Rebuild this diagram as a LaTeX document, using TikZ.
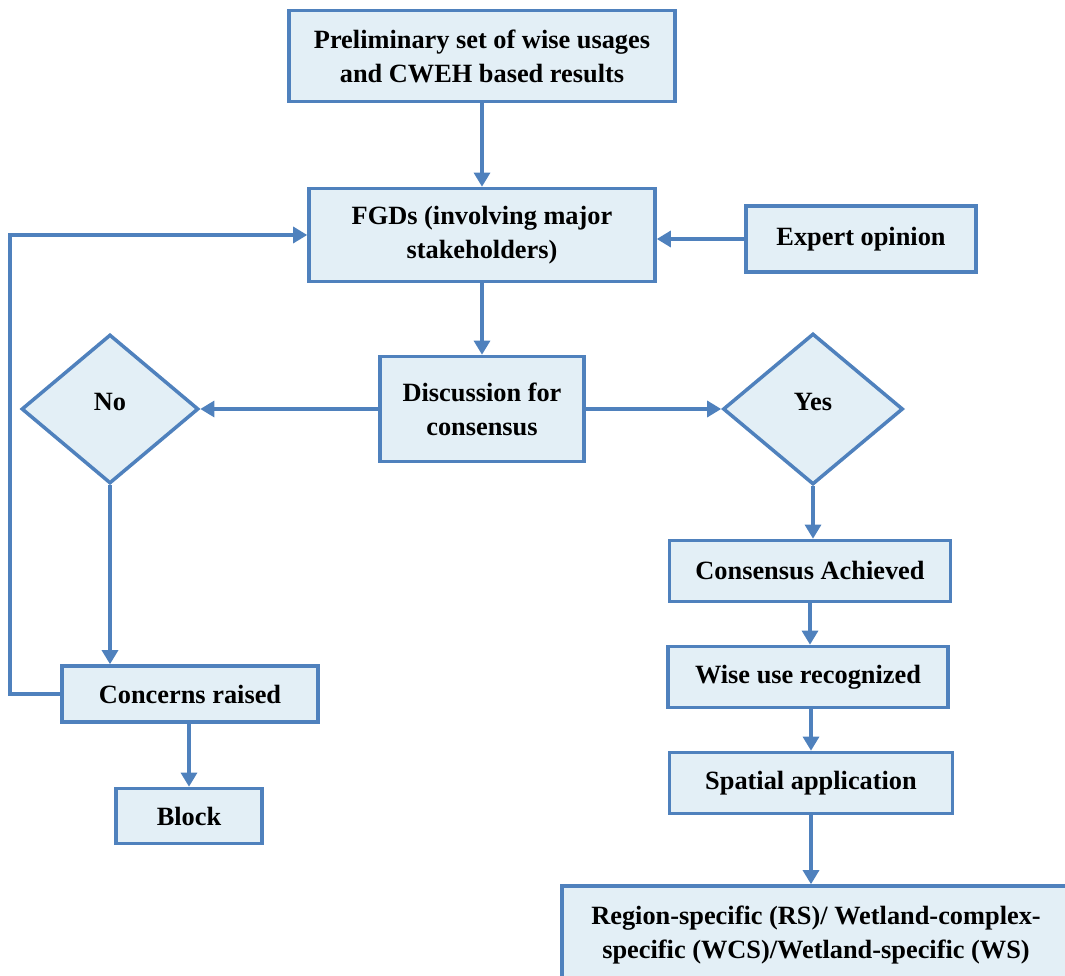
\documentclass[tikz,border=0pt]{standalone}
\usepackage{fontspec}
\setmainfont{Liberation Serif}
\usetikzlibrary{positioning,arrows.meta,shapes.geometric}
\definecolor{boxline}{HTML}{4F81BD}
\definecolor{boxfill}{HTML}{E3EFF6}

\begin{document}
\begin{tikzpicture}[x=0.02cm,y=-0.02cm,>={Triangle[length=8pt,width=9pt]},
  box/.style={draw=boxline,fill=boxfill,line width=2pt,align=center,inner sep=2pt,
    font=\fontsize{15}{19.3}\selectfont\bfseries},
  decision/.style={box,diamond,inner sep=0pt,text depth=8pt},
  flow/.style={->,draw=boxline,line width=2.2pt}]
  \useasboundingbox (0,0) rectangle (1065,976);
  \clip (0,0) rectangle (1065,976);
  % main column
  \node[box,minimum width=7.72cm,minimum height=1.82cm] (prelim) at (482,56) {Preliminary set of wise usages\\and CWEH based results};
  \node[box,minimum width=6.92cm,minimum height=1.86cm] (fgd) at (482,235) {FGDs (involving major\\stakeholders)};
  \node[box,minimum width=4.6cm,minimum height=1.32cm] (expert) at (861,239) {Expert opinion};
  \node[box,minimum width=4.08cm,minimum height=2.1cm] (disc) at (482,409) {Discussion for\\consensus};
  \node[decision,minimum width=3.54cm,minimum height=2.98cm] (no) at (110,409) {No};
  \node[decision,minimum width=3.6cm,minimum height=3.02cm] (yes) at (813,409) {Yes};
  % right branch
  \node[box,minimum width=5.62cm,minimum height=1.22cm] (cons) at (810,571) {Consensus Achieved};
  \node[box,minimum width=5.6cm,minimum height=1.22cm] (wise) at (808,677) {Wise use recognized};
  \node[box,minimum width=5.66cm,minimum height=1.22cm] (spatial) at (811,783) {Spatial application};
  \node[box,minimum width=10.16cm,minimum height=1.96cm] (region) at (816,935) {Region-specific (RS)/ Wetland-complex-\\specific (WCS)/Wetland-specific (WS)};
  % left branch
  \node[box,minimum width=5.12cm,minimum height=1.12cm] (concerns) at (190,694) {Concerns raised};
  \node[box,minimum width=2.92cm,minimum height=1.1cm] (block) at (189,816) {Block};
  % connectors
  \draw[flow] (prelim) -- (fgd);
  \draw[flow] (expert.west) -- (fgd.east |- expert.west);
  \draw[flow] (fgd) -- (disc);
  \draw[flow] (disc.west) -- (no.east);
  \draw[flow] (disc.east) -- (yes.west);
  \draw[flow] (no.south) -- (no.south |- concerns.north);
  \draw[flow] (concerns.west) -- ++(-50,0) |- (fgd.west);
  \draw[flow] (concerns.south -| block.north) -- (block.north);
  \draw[flow] (yes.south) -- (yes.south |- cons.north);
  \draw[flow] (cons.south) -- (cons.south |- wise.north);
  \draw[flow] (wise.south -| spatial.north) -- (spatial.north);
  \draw[flow] (spatial.south) -- (spatial.south |- region.north);
\end{tikzpicture}
\end{document}
